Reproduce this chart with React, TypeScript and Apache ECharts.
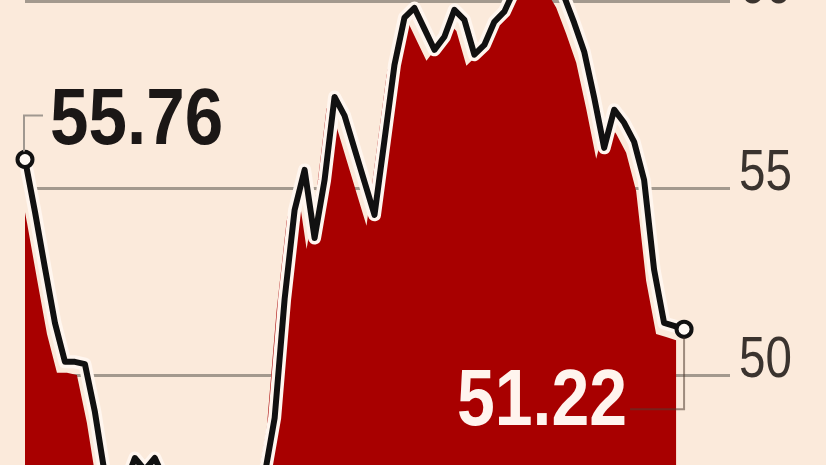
import React, { useEffect, useRef } from 'react';
import * as echarts from 'echarts';

// Price series, one value per trading session
const prices = [
  55.76, 54.36, 52.86, 51.39, 50.35, 50.35, 50.29, 49.01, 47.33, 46.66,
  47.06, 47.78, 47.46, 47.78, 47.19, 46.79, 46.52, 46.39, 46.44, 46.52,
  46.39, 46.52, 46.71, 46.93, 47.33, 48.85, 52.03, 54.41, 55.48, 53.66,
  55.21, 57.43, 56.93, 56.04, 55.16, 54.28, 56.28, 58.29, 59.55, 59.81,
  59.25, 58.69, 59.04, 59.76, 59.49, 58.56, 58.82, 59.44, 59.71, 60.29,
  60.7, 60.83, 60.7, 60.56, 60.11, 59.41, 58.64, 57.41, 56.07, 57.09,
  56.74, 56.23, 55.21, 52.81, 51.39, 51.31, 51.22,
];
const yMin = 45;
const yMax = 62;
const yInterval = 5;
const tickLabels = [50, 55, 60];
const startLabel = '55.76';
const endLabel = '51.22';

const FONT = '"Liberation Sans", Arial, sans-serif';
const TOP_OFFSET = 74;
const CHART_H = 636;

export default function App() {
  const ref = useRef<HTMLDivElement>(null);
  useEffect(() => {
    const chart = echarts.init(ref.current!, null, { renderer: 'svg' });
    const n = prices.length;
    const lineData = prices.map((v, i) => [i, v]);
    const X_MAX = 70.6;
    const X_SHIFT = 0.8;
    const Y_SHIFT = 0.294;
    chart.setOption({
      animation: false,
      backgroundColor: '#fbeadb',
      grid: { left: 25, right: 96, top: 0, bottom: 0, containLabel: false },
      xAxis: [
        { type: 'value', min: 0, max: X_MAX, show: false },
        { type: 'value', min: X_SHIFT, max: X_MAX + X_SHIFT, show: false },
      ],
      yAxis: [
        {
          type: 'value',
          position: 'right',
          min: yMin,
          max: yMax,
          interval: yInterval,
          axisLine: { show: false },
          axisTick: { show: false },
          splitLine: { show: true, lineStyle: { color: '#a3998e', width: 3 } },
          axisLabel: { show: false },
        },
        { type: 'value', min: yMin + Y_SHIFT, max: yMax + Y_SHIFT, show: false },
      ],
      series: [
        {
          type: 'line',
          xAxisIndex: 1,
          yAxisIndex: 1,
          data: lineData,
          symbol: 'none',
          lineStyle: { width: 0 },
          areaStyle: { color: '#a80000', opacity: 1 },
          z: 2,
        },
        {
          type: 'line',
          data: lineData,
          symbol: 'none',
          lineStyle: { color: '#fff6ef', width: 13, join: 'round' },
          z: 3,
        },
        {
          type: 'line',
          data: lineData,
          symbol: 'circle',
          showAllSymbol: true,
          symbolSize: (_v: any, p: any) => (p.dataIndex === 0 || p.dataIndex === n - 1 ? 15 : 0),
          itemStyle: { color: '#fffaf5', borderColor: '#111', borderWidth: 4 },
          lineStyle: { color: '#111', width: 6, join: 'round' },
          z: 4,
        },
      ],
    });

    const toPx = (x: number, y: number) =>
      chart.convertToPixel({ xAxisIndex: 0, yAxisIndex: 0 }, [x, y]) as number[];
    const p0 = toPx(0, prices[0]);
    const p1 = toPx(n - 1, prices[n - 1]);
    const rightEdge = toPx(X_MAX, yMin)[0];

    const tickTexts = tickLabels.map((t) => ({
      type: 'text',
      z: 10,
      x: rightEdge + 9,
      y: toPx(0, t)[1] - 18,
      scaleX: 0.82,
      style: {
        text: String(t),
        fontSize: 58,
        fontFamily: FONT,
        fill: '#3a332e',
        align: 'left',
        verticalAlign: 'middle',
      },
    }));

    chart.setOption({
      graphic: [
        ...tickTexts,
        {
          type: 'polyline',
          z: 10,
          shape: { points: [[p0[0] - 1, p0[1] - 8], [p0[0] - 1, p0[1] - 44], [p0[0] + 18, p0[1] - 44]] },
          style: { stroke: '#a09890', lineWidth: 2, fill: null },
        },
        {
          type: 'text',
          z: 10,
          x: p0[0] + 25,
          y: p0[1] - 43.5,
          scaleX: 0.865,
          style: {
            text: startLabel,
            fontSize: 80,
            fontWeight: 'bold',
            fontFamily: FONT,
            fill: '#1b1716',
            align: 'left',
            verticalAlign: 'middle',
          },
        },
        {
          type: 'polyline',
          z: 10,
          shape: { points: [[p1[0], p1[1] + 8], [p1[0], p1[1] + 80], [p1[0] - 54, p1[1] + 80]] },
          style: { stroke: 'rgba(80,60,50,0.55)', lineWidth: 2, fill: null },
        },
        {
          type: 'text',
          z: 10,
          x: p1[0] - 57,
          y: p1[1] + 68.5,
          scaleX: 0.85,
          style: {
            text: endLabel,
            fontSize: 80,
            fontWeight: 'bold',
            fontFamily: FONT,
            fill: '#fff4ee',
            align: 'right',
            verticalAlign: 'middle',
          },
        },
      ],
    });

    return () => chart.dispose();
  }, []);
  return (
    <div
      ref={ref}
      style={{ position: 'fixed', left: 0, top: -TOP_OFFSET, width: 826, height: CHART_H }}
    />
  );
}
